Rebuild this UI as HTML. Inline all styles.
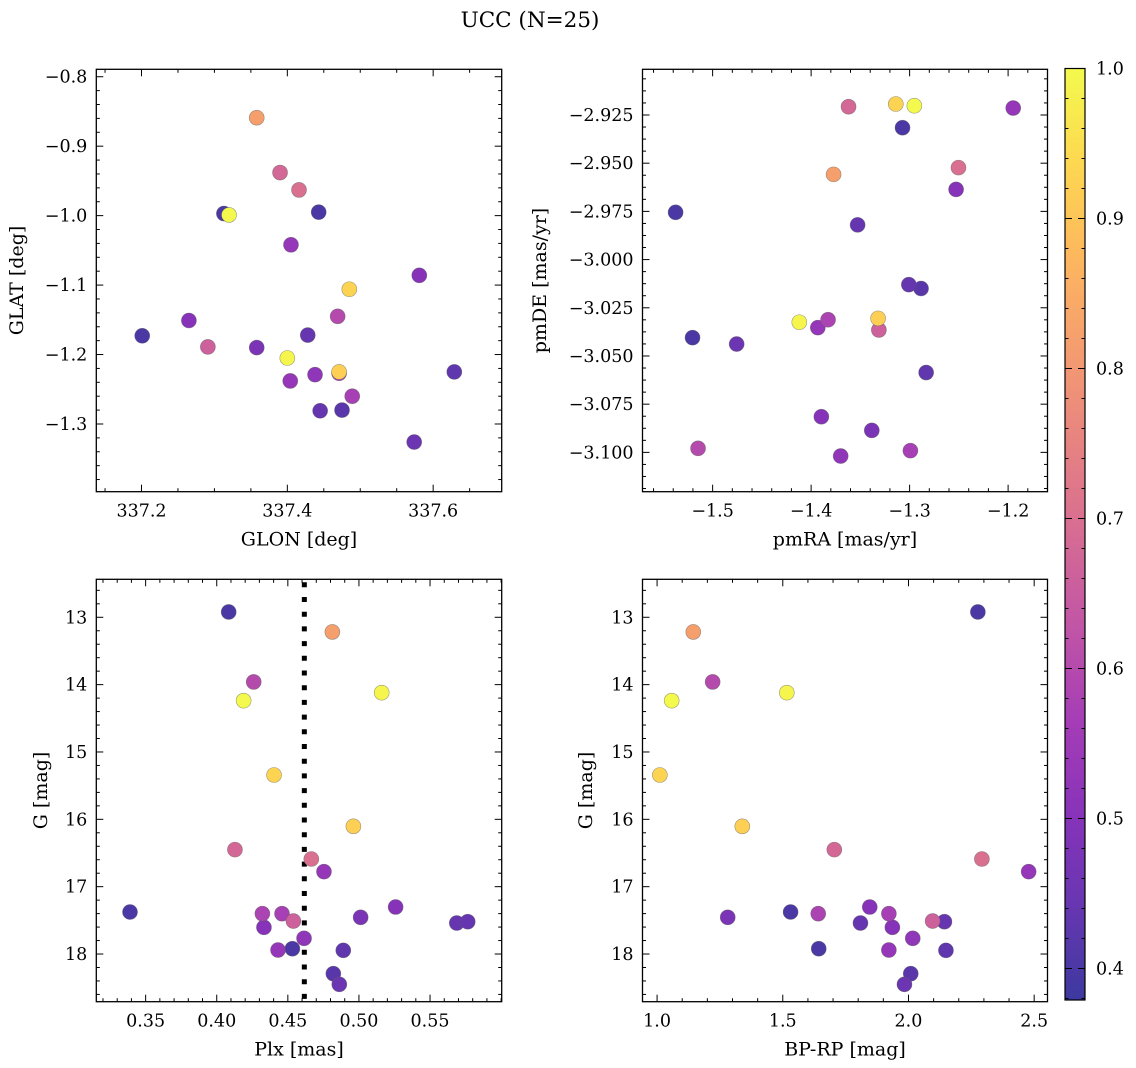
<!DOCTYPE html>
<html><head><meta charset="utf-8"><style>
body{margin:0;background:#fff}
svg{display:block;font-family:"DejaVu Serif","Liberation Serif",serif}
</style></head><body>
<svg id="fig" width="1136" height="1068" viewBox="0 0 1136 1068" xmlns="http://www.w3.org/2000/svg">
<text x="530" y="27" font-size="21.5" text-anchor="middle">UCC (N=25)</text>
</svg>
<script>
const glon=[337.313,337.358,337.469,337.320,337.400,337.485,337.471,337.390,337.416,337.405,337.443,337.471,337.489,337.291,337.581,337.265,337.358,337.428,337.445,337.438,337.404,337.201,337.629,337.475,337.574];
const glat=[-0.997,-0.859,-1.145,-0.999,-1.205,-1.106,-1.225,-0.938,-0.963,-1.042,-0.995,-1.227,-1.260,-1.189,-1.086,-1.151,-1.190,-1.172,-1.281,-1.229,-1.238,-1.173,-1.225,-1.280,-1.326];
const pmra=[-1.5376,-1.3772,-1.5148,-1.2952,-1.412,-1.314,-1.332,-1.362,-1.2504,-1.1948,-1.3072,-1.3828,-1.2992,-1.3312,-1.2528,-1.3896,-1.3384,-1.3528,-1.3008,-1.37,-1.3932,-1.5204,-1.2832,-1.2884,-1.4756];
const pmde=[-2.9755,-2.9558,-3.0979,-2.9202,-3.0325,-2.9193,-3.0305,-2.9207,-2.9523,-2.9214,-2.9316,-3.0312,-3.0991,-3.0365,-2.9636,-3.0815,-3.0886,-2.982,-3.013,-3.1019,-3.0353,-3.0405,-3.0586,-3.015,-3.0438];
const plx=[0.4084,0.4813,0.4260,0.4189,0.5160,0.4403,0.4961,0.4128,0.4665,0.4754,0.339,0.4321,0.4459,0.4539,0.4332,0.5258,0.5012,0.5688,0.5765,0.4614,0.4431,0.4532,0.489,0.482,0.4862];
const gmag=[12.921,13.218,13.960,14.238,14.119,15.342,16.104,16.450,16.589,16.777,17.376,17.401,17.401,17.510,17.604,17.302,17.455,17.540,17.520,17.767,17.941,17.921,17.946,18.292,18.450];
const bprp=[2.276,1.144,1.221,1.058,1.516,1.011,1.339,1.705,2.292,2.478,1.531,1.641,1.922,2.096,1.936,1.846,1.281,1.809,2.143,2.017,1.922,1.643,2.149,2.009,1.984];
const prob=[0.40,0.82,0.60,1.0,0.99,0.93,0.92,0.68,0.70,0.53,0.40,0.58,0.57,0.66,0.50,0.50,0.48,0.44,0.44,0.52,0.53,0.40,0.43,0.42,0.45];
const plxLine=0.4616;
const cbTicks=[0.4,0.5,0.6,0.7,0.8,0.9,1.0];
const vmin=0.379,vmax=1.0;

const NS="http://www.w3.org/2000/svg";
const svg=document.getElementById('fig');
function el(tag,attrs,parent){const e=document.createElementNS(NS,tag);for(const k in attrs)e.setAttribute(k,attrs[k]);(parent||svg).appendChild(e);return e;}
const stops=[[13,8,135],[65,4,157],[106,0,168],[143,13,164],[177,42,144],[204,71,120],[225,100,98],[242,132,75],[252,166,54],[252,206,37],[240,249,33]];
function plasma(t){t=Math.max(0,Math.min(1,t))*10;const i=Math.min(9,Math.floor(t)),f=t-i;const a=stops[i],b=stops[i+1];
 const c=a.map((v,k)=>Math.round((v+(b[k]-v)*f)*0.8+255*0.2));return `rgb(${c[0]},${c[1]},${c[2]})`;}
function fmt(v,d){return (v<0?'\u2212':'')+Math.abs(v).toFixed(d);}
const FS=17.5, LS=19;

function panel(o){
 const g=el('g',{});
 
 
 const sx=v=>o.x0+(v-o.xl[0])/(o.xl[1]-o.xl[0])*(o.x1-o.x0);
 const sy=o.inv? v=>o.y0+(v-o.yl[0])/(o.yl[1]-o.yl[0])*(o.y1-o.y0) : v=>o.y1-(v-o.yl[0])/(o.yl[1]-o.yl[0])*(o.y1-o.y0);
 const ax=el('rect',{x:o.x0,y:o.y0,width:o.x1-o.x0,height:o.y1-o.y0,fill:'none',stroke:'#000','stroke-width':1.3},g);
 
 
 function ticks(major,nminor,lim,isX,dec){
  const step=major[1]-major[0];const ms=step/nminor;
  const start=Math.ceil((lim[0]<lim[1]?lim[0]:lim[1])/ms-1e-6)*ms;const end=Math.max(lim[0],lim[1]);
  for(let v=start;v<=end+1e-9;v+=ms){
   const isMaj=major.some(m=>Math.abs(m-v)<ms*0.01);const L=isMaj?7:3.5;
   if(isX){const x=sx(v);el('line',{x1:x,x2:x,y1:o.y1,y2:o.y1-L,stroke:'#000','stroke-width':1},g);el('line',{x1:x,x2:x,y1:o.y0,y2:o.y0+L,stroke:'#000','stroke-width':1},g);}
   else{const y=sy(v);el('line',{y1:y,y2:y,x1:o.x0,x2:o.x0+L,stroke:'#000','stroke-width':1},g);el('line',{y1:y,y2:y,x1:o.x1,x2:o.x1-L,stroke:'#000','stroke-width':1},g);}
  }
  major.forEach(m=>{
   const t=el('text',isX?{x:sx(m),y:o.y1+25,'font-size':FS,'text-anchor':'middle'}:{x:o.x0-9,y:sy(m)+6,'font-size':FS,'text-anchor':'end'},g);
   t.textContent=fmt(m,dec);
   
   
  });
 }
 ticks(o.xt,o.xn,o.xl,true,o.xd);ticks(o.yt,o.yn,o.yl,false,o.yd);
 const xl=el('text',{x:(o.x0+o.x1)/2,y:o.y1+54,'font-size':LS,'text-anchor':'middle'},g);xl.textContent=o.xlab;
 
 
 const yx=o.ylx,yy=(o.y0+o.y1)/2;
 const yl=el('text',{x:yx,y:yy,'font-size':LS,'text-anchor':'middle',transform:`rotate(-90 ${yx} ${yy})`},g);yl.textContent=o.ylab;
 
 
 if(o.vline!==undefined){const l=el('line',{x1:sx(o.vline),x2:sx(o.vline),y1:o.y0+3,y2:o.y1,stroke:'#000','stroke-width':5,'stroke-dasharray':'5 9.7'},g);
  
  }
 const idx=prob.map((p,i)=>i).sort((a,b)=>prob[a]-prob[b]);
 idx.forEach(i=>{const c=el('circle',{cx:sx(o.xs[i]),cy:sy(o.ys[i]),r:7.5,fill:plasma((prob[i]-vmin)/(vmax-vmin)),stroke:'rgba(90,90,90,0.6)','stroke-width':0.6},g);
  
  });
}
panel({name:'glon-glat-panel',x0:96.3,x1:501.7,y0:69.3,y1:491.7,xl:[337.138,337.694],yl:[-1.3975,-0.7893],xt:[337.2,337.4,337.6],xn:4,yt:[-1.3,-1.2,-1.1,-1.0,-0.9,-0.8],yn:5,xd:1,yd:1,xs:glon,ys:glat,xlab:'GLON [deg]',ylab:'GLAT [deg]',ylx:23});
panel({name:'pm-panel',x0:642.5,x1:1047.5,y0:69.3,y1:491.7,xl:[-1.5712,-1.16],yl:[-3.1204,-2.9013],xt:[-1.5,-1.4,-1.3,-1.2],xn:5,yt:[-3.1,-3.075,-3.05,-3.025,-3.0,-2.975,-2.95,-2.925],yn:4,xd:1,yd:3,xs:pmra,ys:pmde,xlab:'pmRA [mas/yr]',ylab:'pmDE [mas/yr]',ylx:546});
panel({name:'plx-g-panel',x0:96.3,x1:501.7,y0:579.3,y1:1001.7,xl:[0.3153,0.6004],yl:[12.436,18.708],inv:true,xt:[0.35,0.40,0.45,0.50,0.55],xn:5,yt:[13,14,15,16,17,18],yn:5,xd:2,yd:0,xs:plx,ys:gmag,xlab:'Plx [mas]',ylab:'G [mag]',ylx:47,vline:plxLine});
panel({name:'cmd-panel',x0:642.5,x1:1047.5,y0:579.3,y1:1001.7,xl:[0.942,2.553],yl:[12.436,18.708],inv:true,xt:[1.0,1.5,2.0,2.5],xn:5,yt:[13,14,15,16,17,18],yn:5,xd:1,yd:0,xs:bprp,ys:gmag,xlab:'BP-RP [mag]',ylab:'G [mag]',ylx:592});

const cb=el('g',{});


const cx0=1065,cx1=1085,cy0=68.5,cy1=1000;
const defs=el('defs',{},cb);const lg=el('linearGradient',{id:'cbg',x1:0,y1:1,x2:0,y2:0},defs);
for(let k=0;k<=20;k++){el('stop',{offset:k/20,'stop-color':plasma(k/20)},lg);}
el('rect',{x:cx0,y:cy0,width:cx1-cx0,height:cy1-cy0,fill:'url(#cbg)',stroke:'#000','stroke-width':1.2},cb);
const cy=v=>cy1-(v-vmin)/(vmax-vmin)*(cy1-cy0);
for(let v=0.38;v<=1.0001;v+=0.02){const y=cy(v);const maj=cbTicks.some(m=>Math.abs(m-v)<0.001);
 el('line',{x1:cx1,x2:cx1-(maj?7:3.5),y1:y,y2:y,stroke:'#000','stroke-width':1},cb);
 el('line',{x1:cx0,x2:cx0+(maj?7:3.5),y1:y,y2:y,stroke:'#000','stroke-width':1},cb);}
cbTicks.forEach(m=>{const t=el('text',{x:1096,y:cy(m)+6,'font-size':FS},cb);t.textContent=m.toFixed(1);
 
 });
</script>
</body></html>
